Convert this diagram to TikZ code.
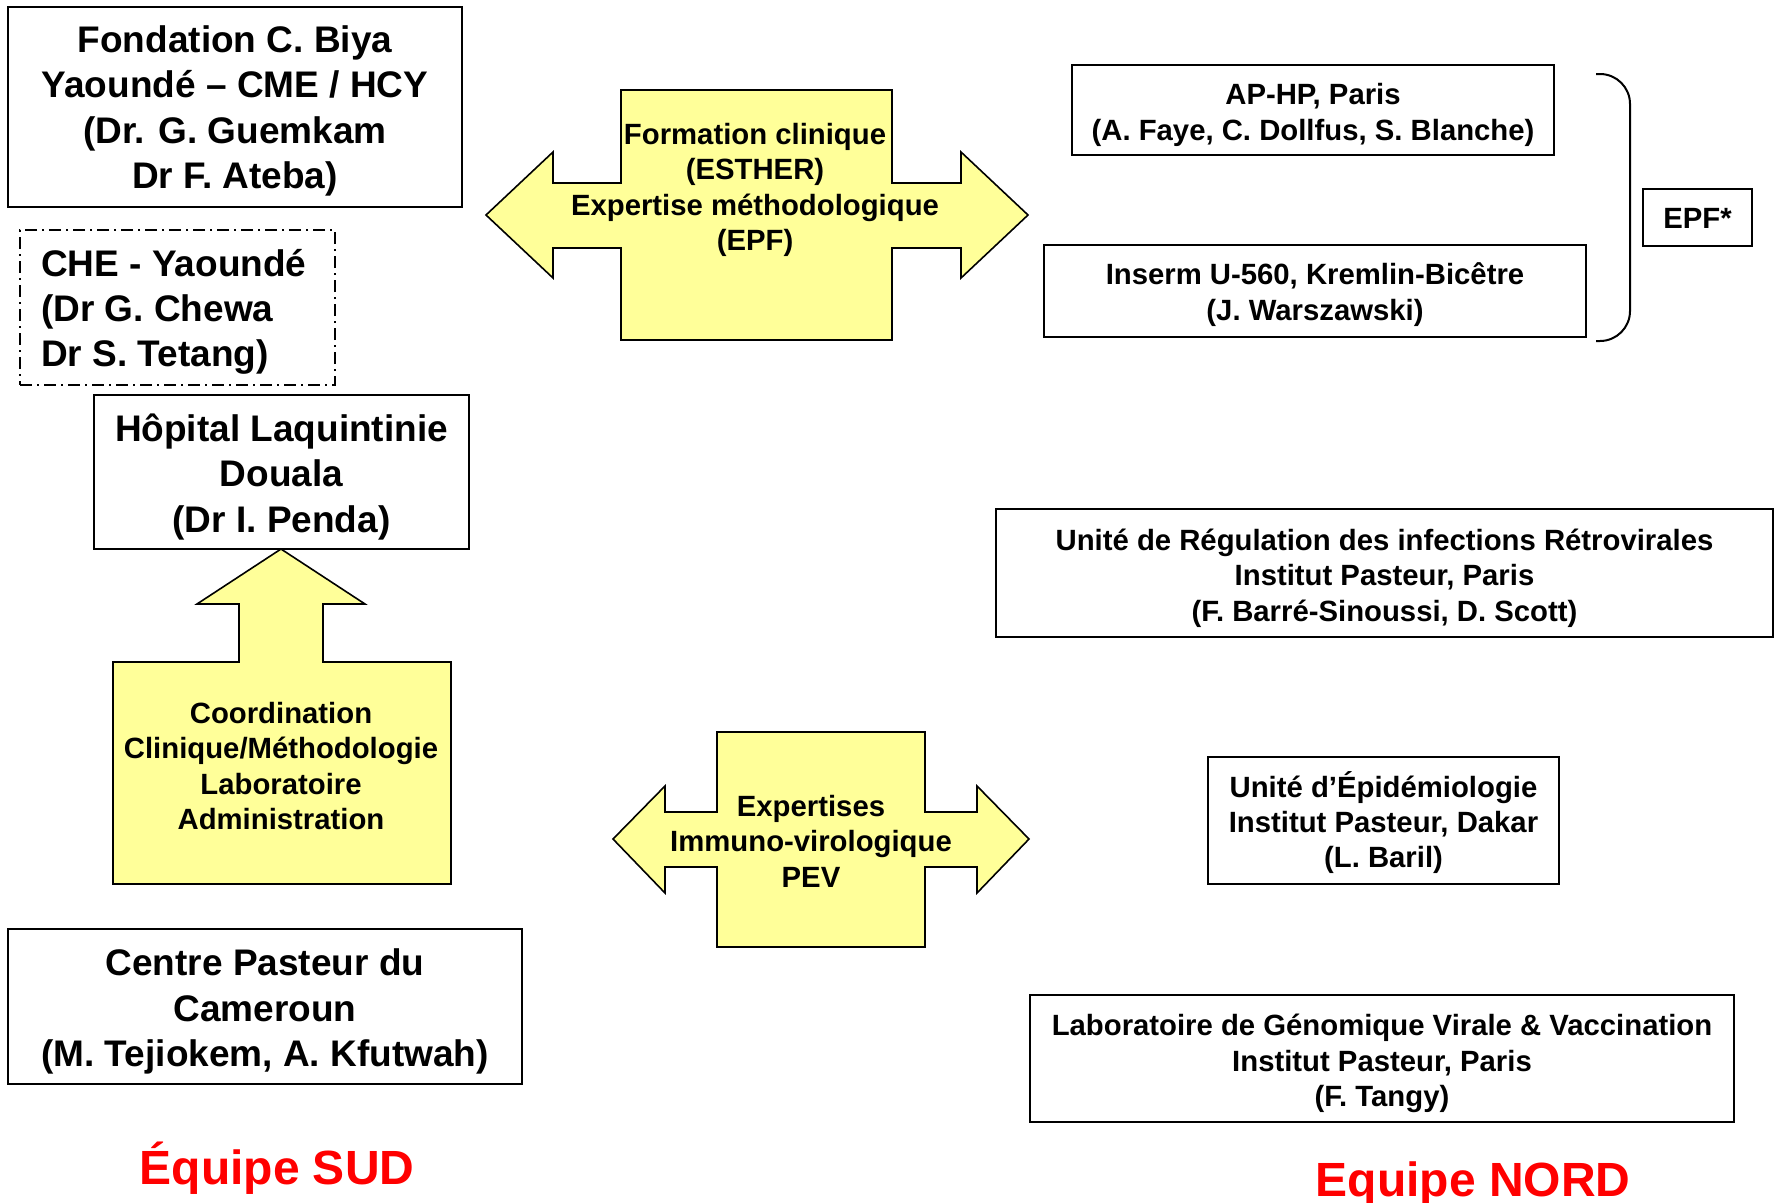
\documentclass[tikz,border=0pt]{standalone}
\usepackage{fontspec}
\setmainfont{Liberation Sans}
\definecolor{arrowyellow}{RGB}{255,255,153}
\definecolor{teamred}{RGB}{255,0,0}
\tikzset{
  bigtxt/.style={font=\fontsize{37}{45.2}\selectfont\bfseries, inner sep=0pt},
  smalltxt/.style={font=\fontsize{29.3}{35.4}\selectfont\bfseries, inner sep=0pt, align=center},
  boxnode/.style={draw=black, line width=2pt, inner sep=0pt},
  fatarrow/.style={draw=black, line width=1.6pt, fill=arrowyellow, line join=miter},
  teamlabel/.style={font=\fontsize{48}{56}\selectfont\bfseries, text=teamred, inner sep=0pt, anchor=base},
}
\begin{document}
\begin{tikzpicture}[x=1pt,y=-1pt]
\useasboundingbox (0,0) rectangle (1779,1202);

% ---------- South side boxes ----------
\node[boxnode, minimum width=454pt, minimum height=200pt] (fond) at (235,107) {};
\node[bigtxt, align=center] (fondT) at ([yshift=-4pt]fond.center)
  {Fondation C. Biya\\Yaoundé – CME / HCY\\(Dr. G. Guemkam\\Dr F. Ateba)};

\node[draw=black, line width=2pt, dash pattern=on 12pt off 5pt on 2pt off 5pt,
      inner sep=0pt, minimum width=315pt, minimum height=155pt] (che) at (177.5,307.5) {};
\node[bigtxt, align=left, anchor=west] (cheT) at ([xshift=22pt,yshift=-4.5pt]che.west)
  {CHE - Yaoundé\\(Dr G. Chewa\\Dr S. Tetang)};

\node[boxnode, minimum width=375pt, minimum height=154pt] (hop) at (281.5,472) {};
\node[bigtxt, align=center] (hopT) at ([yshift=-5pt]hop.center)
  {Hôpital Laquintinie\\Douala\\(Dr I. Penda)};

\node[boxnode, minimum width=514pt, minimum height=155pt] (cp) at (265,1006.5) {};
\node[bigtxt, align=center] (cpT) at ([yshift=-5pt]cp.center)
  {Centre Pasteur du\\Cameroun\\(M. Tejiokem, A. Kfutwah)};

% ---------- Coordination up arrow ----------
\draw[fatarrow] (281,549) -- (365,604) -- (323,604) -- (323,662) -- (451,662)
  -- (451,884) -- (113,884) -- (113,662) -- (239,662) -- (239,604) -- (197,604) -- cycle;
\node[smalltxt] (coord) at (281,766)
  {Coordination\\Clinique/Méthodologie\\Laboratoire\\Administration};

% ---------- Top double arrow ----------
\draw[fatarrow] (486,215) -- (553,152) -- (553,183) -- (621,183) -- (621,90) -- (892,90)
  -- (892,183) -- (961,183) -- (961,152) -- (1028,215) -- (961,278) -- (961,248)
  -- (892,248) -- (892,340) -- (621,340) -- (621,248) -- (553,248) -- (553,278) -- cycle;
\node[smalltxt] (form) at (755,190)
  {Formation clinique\\(ESTHER)\\Expertise méthodologique\\(EPF)};

% ---------- Bottom double arrow ----------
\draw[fatarrow] (613,839) -- (665,786) -- (665,812) -- (717,812) -- (717,732) -- (925,732)
  -- (925,812) -- (977,812) -- (977,786) -- (1029,839) -- (977,893) -- (977,867)
  -- (925,867) -- (925,947) -- (717,947) -- (717,867) -- (665,867) -- (665,893) -- cycle;
\node[smalltxt] (expt) at (811,841)
  {Expertises\\Immuno-virologique\\PEV};

% ---------- North side boxes ----------
\node[boxnode, minimum width=482pt, minimum height=90pt] (aphp) at (1313,110) {};
\node[smalltxt] (aphpT) at ([yshift=-5pt]aphp.center)
  {AP-HP, Paris\\(A. Faye, C. Dollfus, S. Blanche)};

\node[boxnode, minimum width=542pt, minimum height=92pt] (inserm) at (1315,291) {};
\node[smalltxt] (insermT) at ([yshift=-3.5pt]inserm.center)
  {Inserm U-560, Kremlin-Bicêtre\\(J. Warszawski)};

\draw[line width=2pt, rounded corners=30pt] (1596,74) -- (1630,74) -- (1630,341) -- (1596,341);

\node[boxnode, minimum width=109pt, minimum height=57pt] (epf) at (1697.5,217.5) {};
\node[smalltxt] (epfT) at ([yshift=-1pt]epf.center) {EPF*};

\node[boxnode, minimum width=777pt, minimum height=128pt] (urir) at (1384.5,573) {};
\node[smalltxt] (urirT) at ([yshift=-5pt]urir.center)
  {Unité de Régulation des infections Rétrovirales\\Institut Pasteur, Paris\\(F. Barré-Sinoussi, D. Scott)};

\node[boxnode, minimum width=351pt, minimum height=127pt] (epid) at (1383.5,820.5) {};
\node[smalltxt] (epidT) at ([yshift=-2pt]epid.center)
  {Unité d’Épidémiologie\\Institut Pasteur, Dakar\\(L. Baril)};

\node[boxnode, minimum width=704pt, minimum height=127pt] (labo) at (1382,1058.5) {};
\node[smalltxt] (laboT) at ([yshift=-5pt]labo.center)
  {Laboratoire de Génomique Virale \& Vaccination\\Institut Pasteur, Paris\\(F. Tangy)};

% ---------- Team labels ----------
\node[teamlabel] (sud) at (277,1184) {Équipe SUD};
\node[teamlabel] (nord) at (1473,1196) {Equipe NORD};

\end{tikzpicture}
\end{document}
